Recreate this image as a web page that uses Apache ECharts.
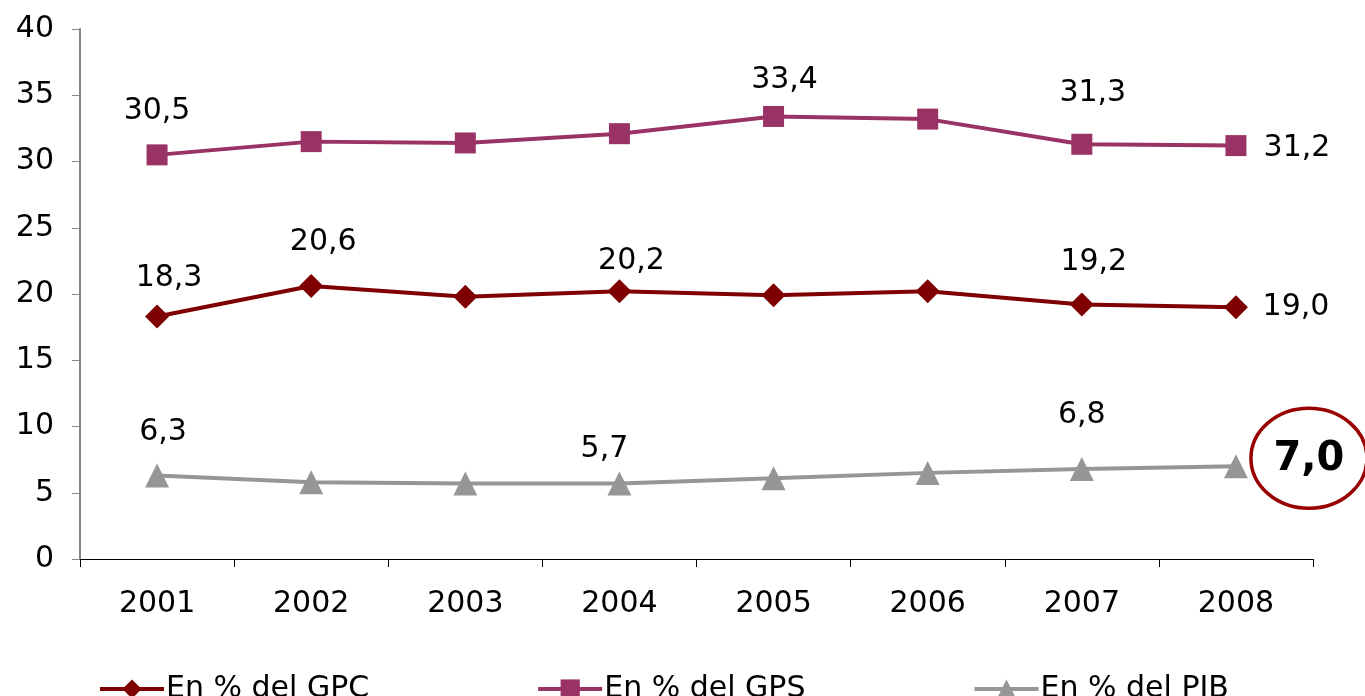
<!DOCTYPE html>
<html><head><meta charset="utf-8">
<script src="https://cdn.jsdelivr.net/npm/echarts@6/dist/echarts.min.js"></script>
<style>html,body{margin:0;padding:0;background:#fff}#c{width:1365px;height:696px}</style>
</head><body><div id="c"></div>
<script>
const years = ['2001','2002','2003','2004','2005','2006','2007','2008'];
const gpc = [18.3, 20.6, 19.8, 20.2, 19.9, 20.2, 19.2, 19.0];
const gps = [30.5, 31.5, 31.4, 32.1, 33.4, 33.2, 31.3, 31.2];
const pib = [6.3, 5.8, 5.7, 5.7, 6.1, 6.5, 6.8, 7.0];
const seriesNames = ['En % del GPC', 'En % del GPS', 'En % del PIB'];
const highlightIndex = 7; // circled PIB value

// label placement (index -> offset) — styling only
const gpcLabels = {0:[12,-38], 1:[12,-44], 3:[12,-30], 6:[12,-42], 7:[60,0]};
const gpsLabels = {0:[0,-44], 4:[11,-36], 6:[11,-51], 7:[61,3]};
const pibLabels = {0:[6,-43], 3:[-15,-34], 6:[0,-54]};
const HL_OFFSET = [73, -7];

const FONT = 'DejaVu Sans';
const FS = 30;
const fmt = v => v.toFixed(1).replace('.', ',');

function build(values, labels) {
  return values.map((v, i) => {
    const item = { value: v };
    if (labels[i]) {
      item.label = { show: true, position: 'inside', offset: labels[i],
        formatter: fmt(v), fontSize: FS, fontFamily: FONT, color: '#000' };
    }
    return item;
  });
}

const pibData = build(pib, pibLabels);
pibData[highlightIndex].label = {
  show: true, position: 'inside', offset: HL_OFFSET, formatter: fmt(pib[highlightIndex]),
  fontSize: 40, fontWeight: 'bold', fontFamily: FONT, color: '#000'
};

const chart = echarts.init(document.getElementById('c'));
chart.setOption({
  animation: false,
  backgroundColor: '#fff',
  grid: { left: 80, right: 52, top: 29, bottom: 137 },
  legend: {
    left: 93, top: 669, itemWidth: 64, itemHeight: 24, itemGap: 167,
    lineStyle: { width: 4 },
    textStyle: { fontSize: FS, fontFamily: FONT, color: '#000', padding: [0,0,0,-3] },
    data: seriesNames
  },
  xAxis: {
    type: 'category', data: years, boundaryGap: true,
    axisLine: { lineStyle: { color: '#000', width: 1 } },
    axisTick: { show: true, length: 8, lineStyle: { color: '#000' } },
    axisLabel: { fontSize: FS, fontFamily: FONT, color: '#000', margin: 30 }
  },
  yAxis: {
    type: 'value', min: 0, max: 40, interval: 5,
    axisLine: { show: true, lineStyle: { color: '#868686', width: 2 } },
    axisTick: { show: true, length: 8, lineStyle: { color: '#868686', width: 1 } },
    splitLine: { show: false },
    axisLabel: { fontSize: FS, fontFamily: FONT, color: '#000', margin: 26 }
  },
  series: [
    { name: seriesNames[0], type: 'line', symbol: 'diamond', symbolSize: 24,
      itemStyle: { color: '#7F0000' }, lineStyle: { color: '#7F0000', width: 4 },
      data: build(gpc, gpcLabels) },
    { name: seriesNames[1], type: 'line', symbol: 'rect', symbolSize: 21,
      itemStyle: { color: '#993366' }, lineStyle: { color: '#993366', width: 4 },
      data: build(gps, gpsLabels) },
    { name: seriesNames[2], type: 'line', symbol: 'triangle', symbolSize: 24,
      itemStyle: { color: '#969696' }, lineStyle: { color: '#969696', width: 4 },
      data: pibData }
  ]
});

// ellipse around the highlighted value, placed from the axis scale
const p = chart.convertToPixel({ seriesIndex: 2 }, [highlightIndex, pib[highlightIndex]]);
chart.setOption({
  graphic: [{
    type: 'ellipse', z: 100,
    shape: { cx: p[0] + HL_OFFSET[0], cy: p[1] + HL_OFFSET[1] - 1, rx: 58, ry: 50 },
    style: { fill: 'none', stroke: '#990000', lineWidth: 3.5 }
  }]
});
</script></body></html>
